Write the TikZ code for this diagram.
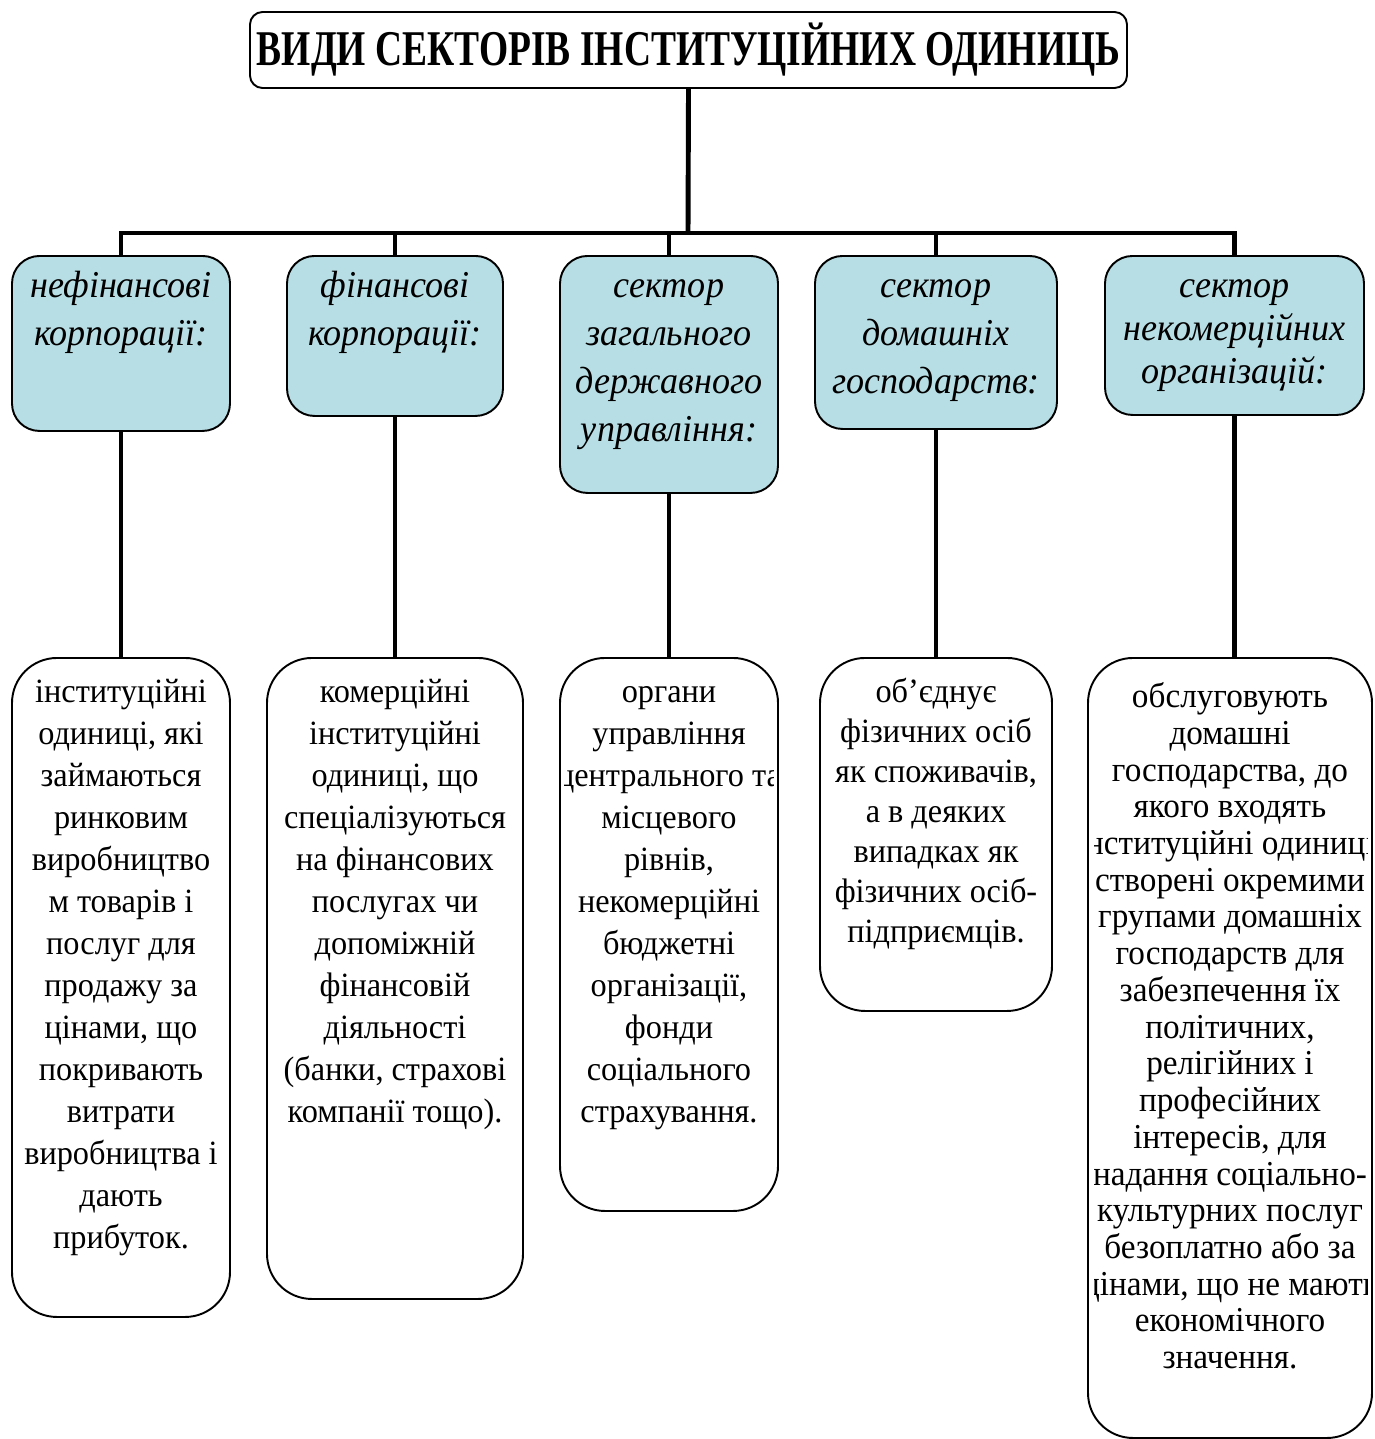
\documentclass[tikz,border=0pt]{standalone}
\usepackage{fontspec}
\setmainfont{Liberation Serif}[FakeStretch=0.95]
\newfontfamily\titlefont{Liberation Serif}[FakeStretch=0.75]
\definecolor{secfill}{RGB}{183,222,228}
\newcommand{\headstrut}{\rule{0pt}{0.75em}}

\begin{document}
\begin{tikzpicture}[x=1cm,y=1cm,line join=miter,
  link/.style={line width=2.8pt},
  titlebox/.style={draw,line width=1.1pt,rounded corners=0.25cm,minimum width=17.54cm,minimum height=1.52cm,inner sep=0pt,font=\titlefont\bfseries\fontsize{28.45pt}{30pt}\selectfont},
  secbox/.style={draw,line width=1.1pt,fill=secfill,rounded corners=0.55cm,anchor=north,inner sep=0pt},
  unitbox/.style={draw,line width=1.1pt,rounded corners=0.9cm,anchor=north,inner sep=0pt},
  sectext/.style={anchor=north,align=center,inner sep=0pt,font=\itshape\fontsize{21.6pt}{27.3pt}\selectfont},
  unittext/.style={anchor=north,align=center,inner sep=0pt,font=\fontsize{19.35pt}{23.9pt}\selectfont}]
\useasboundingbox (0,0) rectangle (27.48,-28.78);

\node[titlebox] (title) at (13.77,-1.0) {ВИДИ СЕКТОРІВ ІНСТИТУЦІЙНИХ ОДИНИЦЬ};
\coordinate (bus) at (13.76,-4.66);

\node[secbox,minimum width=4.36cm,minimum height=3.50cm] (nfin) at (2.42,-5.10) {};
\node[secbox,minimum width=4.32cm,minimum height=3.20cm] (fin) at (7.90,-5.10) {};
\node[secbox,minimum width=4.36cm,minimum height=4.74cm] (gov) at (13.38,-5.10) {};
\node[secbox,minimum width=4.84cm,minimum height=3.46cm] (hh) at (18.72,-5.10) {};
\node[secbox,minimum width=5.18cm,minimum height=3.18cm] (npo) at (24.69,-5.10) {};

\node[sectext] (nfin-t) at ([yshift=-0.27cm]nfin.north) {\headstrut нефінансові\\корпорації:};
\node[sectext] (fin-t) at ([yshift=-0.27cm]fin.north) {\headstrut фінансові\\корпорації:};
\node[sectext] (gov-t) at ([yshift=-0.27cm]gov.north) {\headstrut сектор\\загального\\державного\\управління:};
\node[sectext] (hh-t) at ([yshift=-0.27cm]hh.north) {\headstrut сектор\\домашніх\\господарств:};
\node[sectext,font=\itshape\fontsize{21.6pt}{24.5pt}\selectfont] (npo-t) at ([yshift=-0.27cm]npo.north) {\headstrut сектор\\некомерційних\\організацій:};

\node[unitbox,minimum width=4.36cm,minimum height=13.18cm] (nfin-u) at (2.42,-13.14) {};
\node[unitbox,minimum width=5.12cm,minimum height=12.82cm] (fin-u) at (7.90,-13.14) {};
\node[unitbox,minimum width=4.36cm,minimum height=11.06cm] (gov-u) at (13.38,-13.14) {};
\node[unitbox,minimum width=4.64cm,minimum height=7.06cm] (hh-u) at (18.72,-13.14) {};
\node[unitbox,minimum width=5.68cm,minimum height=15.60cm] (npo-u) at (24.60,-13.14) {};

\node[unittext] (nfin-d) at ([yshift=-0.39cm]nfin-u.north) {\headstrut інституційні\\одиниці, які\\займаються\\ринковим\\виробництво\\м товарів і\\послуг для\\продажу за\\цінами, що\\покривають\\витрати\\виробництва і\\дають\\прибуток.};
\node[unittext] (fin-d) at ([yshift=-0.39cm]fin-u.north) {\headstrut комерційні\\інституційні\\одиниці, що\\спеціалізуються\\на фінансових\\послугах чи\\допоміжній\\фінансовій\\діяльності\\(банки, страхові\\компанії тощо).};
\begin{scope}
\clip ([xshift=0.1cm]gov-u.south west) rectangle ([xshift=-0.1cm]gov-u.north east);
\node[unittext] (gov-d) at ([yshift=-0.39cm]gov-u.north) {\headstrut органи\\управління\\центрального та\\місцевого\\рівнів,\\некомерційні\\бюджетні\\організації,\\фонди\\соціального\\страхування.};
\end{scope}
\node[unittext,font=\fontsize{19.35pt}{22.8pt}\selectfont] (hh-d) at ([yshift=-0.39cm]hh-u.north) {\headstrut об’єднує\\фізичних осіб\\як споживачів,\\а в деяких\\випадках як\\фізичних осіб-\\підприємців.};
\begin{scope}
\clip ([xshift=0.14cm]npo-u.south west) rectangle ([xshift=-0.1cm]npo-u.north east);
\node[unittext,font=\fontsize{19.9pt}{20.9pt}\selectfont] (npo-d) at ([yshift=-0.48cm]npo-u.north) {\headstrut обслуговують\\домашні\\господарства, до\\якого входять\\інституційні одиниці,\\створені окремими\\групами домашніх\\господарств для\\забезпечення їх\\політичних,\\релігійних і\\професійних\\інтересів, для\\надання соціально-\\культурних послуг\\безоплатно або за\\цінами, що не мають\\економічного\\значення.};
\end{scope}

\draw[link] (title.south) -- (bus);
\foreach \s in {nfin,fin,gov,hh,npo}
  \draw[link] (\s.north) |- (bus);
\foreach \s in {nfin,fin,gov,hh}
  \draw[link] (\s.south) -- (\s-u.north);
\draw[link] (npo.south) -- (npo.south |- npo-u.north);
\end{tikzpicture}
\end{document}
